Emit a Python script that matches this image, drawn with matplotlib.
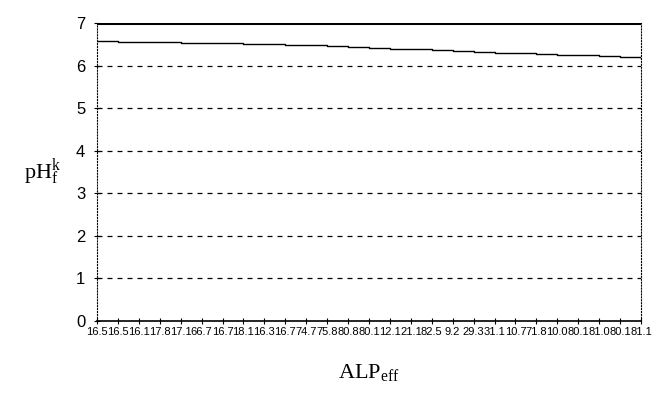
import matplotlib.pyplot as plt

plt.rcParams['mathtext.fontset'] = 'custom'
plt.rcParams['mathtext.rm'] = 'Liberation Serif'
plt.rcParams['mathtext.it'] = 'Liberation Serif:italic'

# ALP_eff categories along the x axis and the final pH at each step
alp_labels = ["16.5", "16.5", "16.1", "17.8", "17.1", "66.7", "16.7", "18.1",
              "16.3", "16.7", "74.7", "75.8", "80.8", "80.1", "12.1", "21.1",
              "82.5", "9.2", "29.3", "31.1", "10.7", "71.8", "10.0", "80.1",
              "81.0", "80.1", "81.1"]
ph_final = [6.58, 6.56, 6.55, 6.55, 6.54, 6.53, 6.52, 6.51, 6.50, 6.49,
            6.48, 6.46, 6.44, 6.42, 6.40, 6.38, 6.36, 6.34, 6.33, 6.30,
            6.29, 6.27, 6.25, 6.24, 6.22, 6.20, 6.18]
y_ticks = [0, 1, 2, 3, 4, 5, 6, 7]

tick_font = ['Liberation Sans Narrow', 'Liberation Sans']

fig = plt.figure(figsize=(6.57, 3.97), dpi=100)
ax = fig.add_axes([0.1476, 0.1914, 0.828, 0.7506])

x = list(range(len(alp_labels)))
ax.plot(x, ph_final, color='black', linewidth=1.0, drawstyle='steps-post')
ax.axhline(7, color='black', linewidth=2.2)
for v in y_ticks[1:-1]:
    ax.axhline(v, color='black', linestyle=(0, (4, 4)), linewidth=0.9)

ax.set_xlim(0, len(alp_labels) - 1)
ax.set_ylim(0, 7)
ax.set_yticks(y_ticks)
ax.set_yticklabels([str(v) for v in y_ticks], fontsize=12, family=tick_font)
ax.set_xticks(x)
ax.set_xticklabels(alp_labels, fontsize=8, family=tick_font)
ax.tick_params(axis='both', direction='inout', length=5, width=0.8)
ax.tick_params(axis='y', pad=6)
ax.tick_params(axis='x', pad=2)

ax.spines['left'].set_linestyle(':')
ax.spines['right'].set_linestyle(':')
ax.spines['top'].set_visible(False)
ax.spines['bottom'].set_linewidth(1.2)

ax.set_ylabel(r'pH$_{\mathrm{f}}^{\mathrm{k}}$', fontsize=16, family='Liberation Serif',
              rotation=0, labelpad=24, va='center')
ax.set_xlabel(r'ALP$_{\mathrm{eff}}$', fontsize=16, family='Liberation Serif', labelpad=18)

fig.savefig('out.png', dpi=100)
